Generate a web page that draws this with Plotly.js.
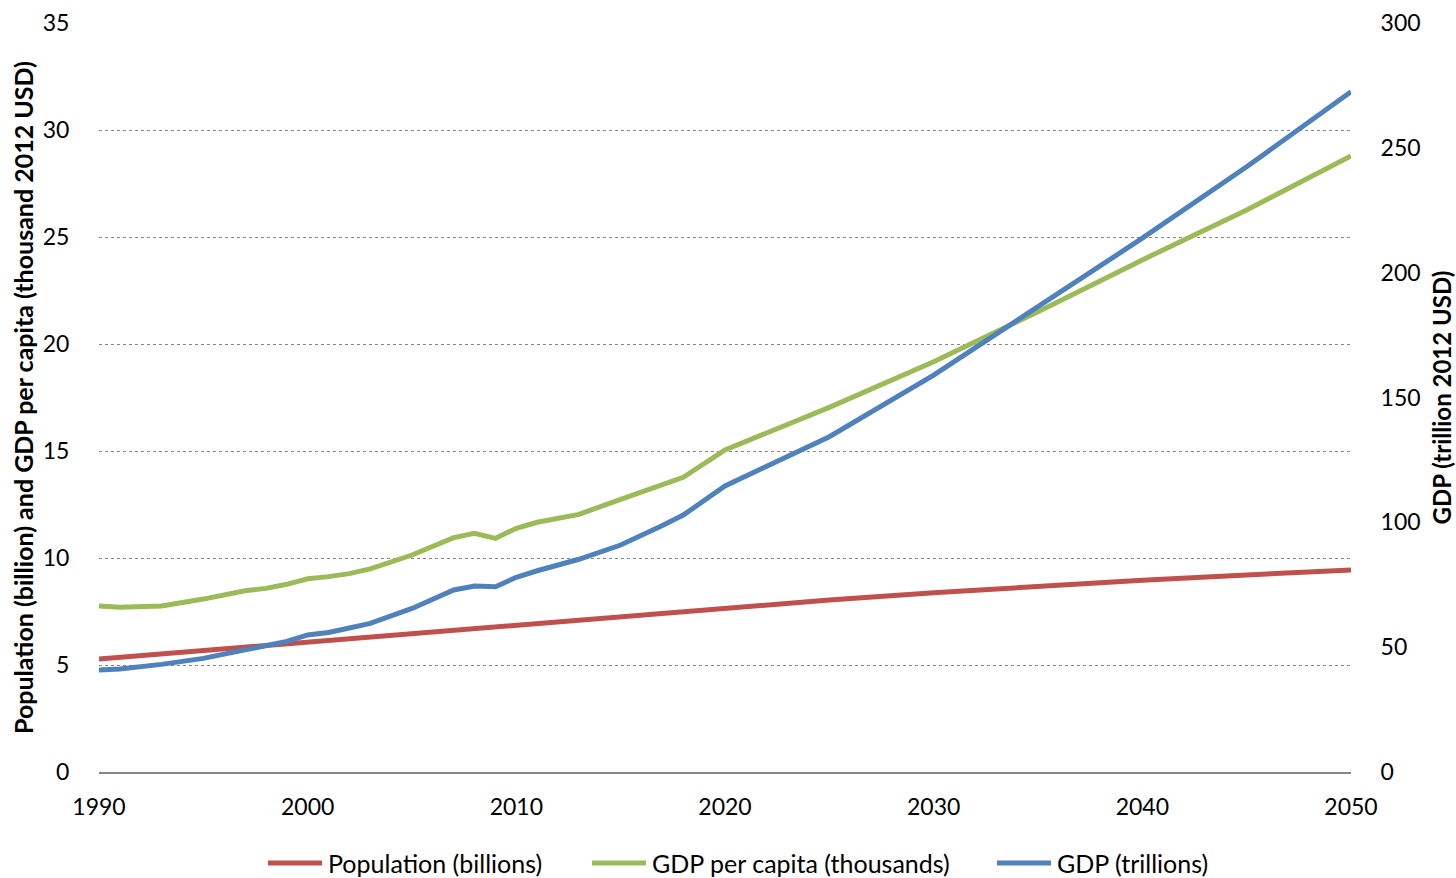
<!DOCTYPE html>
<html>
<head>
<meta charset="utf-8">
<script src="https://cdn.plot.ly/plotly-3.0.1.min.js"></script>
<style>html,body{margin:0;padding:0;background:#fff;}#chart{width:1456px;height:878px;}</style>
</head>
<body>
<div id="chart"></div>
<script>
const years = [1990,1991,1993,1995,1997,1998,1999,2000,2001,2002,2003,2005,2007,2008,2009,2010,2011,2013,2015,2017,2018,2020,2025,2030,2035,2040,2045,2050];
const population = [5.28,5.36,5.52,5.68,5.84,5.92,6.00,6.08,6.16,6.24,6.32,6.48,6.64,6.72,6.80,6.88,6.96,7.12,7.28,7.44,7.52,7.68,8.04,8.38,8.68,8.96,9.21,9.44];
const gdpPerCapita = [7.76,7.70,7.76,8.08,8.47,8.58,8.77,9.03,9.13,9.27,9.49,10.14,10.95,11.15,10.92,11.39,11.67,12.04,12.74,13.42,13.77,15.05,17.04,19.17,21.51,23.93,26.26,28.79];
const gdp = [40.9,41.3,43.1,45.5,48.9,50.6,52.3,54.9,55.9,57.7,59.5,65.5,72.9,74.5,74.2,78.0,80.6,85.2,90.9,98.7,102.9,114.6,134.3,159.0,186.6,213.8,242.4,272.5];
const seriesNames = ["Population (billions)","GDP per capita (thousands)","GDP (trillions)"];
const seriesColors = ['#C0504D','#9BBB59','#4F81BD'];
const xTicks = [1990,2000,2010,2020,2030,2040,2050];
const leftTicks = [0,5,10,15,20,25,30,35];
const rightTicks = [0,50,100,150,200,250,300];

const font = "Lato, 'Open Sans', sans-serif";
const W = 1456, H = 878;
const M = {l: 99, r: 105, t: 23, b: 106};
const plotW = W - M.l - M.r, plotH = H - M.t - M.b;

const traces = [
  {x: years, y: population, name: seriesNames[0], type: 'scatter', mode: 'lines', line: {color: seriesColors[0], width: 5}, yaxis: 'y'},
  {x: years, y: gdpPerCapita, name: seriesNames[1], type: 'scatter', mode: 'lines', line: {color: seriesColors[1], width: 5}, yaxis: 'y'},
  {x: years, y: gdp, name: seriesNames[2], type: 'scatter', mode: 'lines', line: {color: seriesColors[2], width: 5}, yaxis: 'y2'}
];

// manual legend below the plot (pixel positions converted to paper coordinates)
const legendLineStart = [268, 592, 997];
const legendLineLen = 54;
const legendY = 863;
const px2x = p => (p - M.l) / plotW;
const py2y = p => (H - M.b - p) / plotH;
const shapes = [], annotations = [];
seriesNames.forEach((n, i) => {
  shapes.push({type: 'line', xref: 'paper', yref: 'paper',
    x0: px2x(legendLineStart[i]), x1: px2x(legendLineStart[i] + legendLineLen),
    y0: py2y(legendY), y1: py2y(legendY),
    line: {color: seriesColors[i], width: 5}});
  annotations.push({xref: 'paper', yref: 'paper', x: px2x(legendLineStart[i] + legendLineLen + 4), y: py2y(legendY),
    xanchor: 'left', yanchor: 'middle', showarrow: false, text: n,
    font: {family: font, size: 25, color: '#000'}});
});

const layout = {
  width: W, height: H,
  margin: {l: M.l, r: M.r, t: M.t, b: M.b, autoexpand: false},
  paper_bgcolor: '#fff', plot_bgcolor: '#fff',
  font: {family: font, size: 23, color: '#000'},
  showlegend: false,
  shapes: shapes, annotations: annotations,
  xaxis: {
    range: [1990, 2050], tickvals: xTicks, ticktext: xTicks.map(String),
    showgrid: false, zeroline: false, showline: true, linecolor: '#868686', linewidth: 1.5,
    ticks: 'outside', ticklen: 14, tickcolor: 'rgba(0,0,0,0)',
    tickfont: {family: font, size: 23, color: '#000'}, fixedrange: true
  },
  yaxis: {
    range: [0, 35], tickvals: leftTicks, ticktext: leftTicks.map(String),
    showgrid: true, gridcolor: '#868686', griddash: 'dot', gridwidth: 1,
    zeroline: false, showline: false,
    ticks: 'outside', ticklen: 24, tickcolor: 'rgba(0,0,0,0)',
    tickfont: {family: font, size: 23, color: '#000'},
    title: {text: 'Population (billion) and GDP per capita (thousand 2012 USD)', font: {family: font, size: 25, color: '#000', weight: 'bold'}, standoff: 1},
    fixedrange: true
  },
  yaxis2: {
    range: [0, 300], tickvals: rightTicks, ticktext: rightTicks.map(String),
    overlaying: 'y', side: 'right', showgrid: false, zeroline: false, showline: false,
    ticks: 'outside', ticklen: 24, tickcolor: 'rgba(0,0,0,0)',
    tickfont: {family: font, size: 23, color: '#000'},
    title: {text: 'GDP (trillion 2012 USD)', font: {family: font, size: 24, color: '#000', weight: 'bold'}, standoff: 14},
    fixedrange: true
  }
};
Plotly.newPlot('chart', traces, layout, {displayModeBar: false, staticPlot: true});
</script>
</body>
</html>
